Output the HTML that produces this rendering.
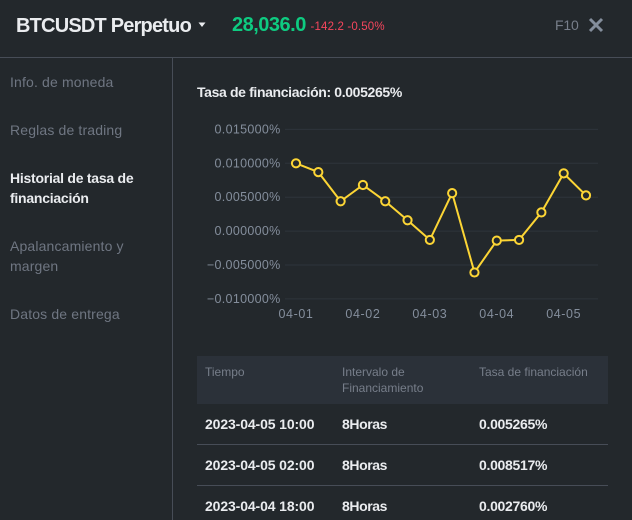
<!DOCTYPE html>
<html lang="es">
<head>
<meta charset="utf-8">
<title>BTCUSDT Perpetuo</title>
<style>
html,body{margin:0;padding:0;background:#23282c;}
body{width:632px;height:520px;overflow:hidden;position:relative;font-family:"Liberation Sans",sans-serif;}
.t{position:absolute;white-space:nowrap;line-height:1;}
.ln{position:absolute;background:#474d57;}
.nav{position:absolute;left:10px;font-size:14px;line-height:20px;color:#6f7682;font-weight:400;letter-spacing:.15px;}
.th{color:#777e8a;font-size:12px;line-height:16px;position:absolute;}
.td{color:#eaecef;font-size:14px;font-weight:700;position:absolute;white-space:nowrap;line-height:16px;letter-spacing:-.12px;}
.rate{letter-spacing:-.3px;}
.iv{letter-spacing:-.4px;}
svg text{font-family:"Liberation Sans",sans-serif;}
</style>
</head>
<body>
<div class="t" style="left:16px;top:16px;font-size:20px;font-weight:700;color:#eaecef;letter-spacing:-.8px">BTCUSDT Perpetuo</div>
<svg style="position:absolute;left:197px;top:21px" width="12" height="8"><path d="M1.5 1.5h7L5 6z" fill="#eaecef"/></svg>
<div class="t" style="left:232px;top:15px;font-size:20px;font-weight:700;color:#0ecb81;letter-spacing:-.5px">28,036.0</div>
<div class="t" style="left:310.500px;top:22px;font-size:11.5px;color:#f6465d;letter-spacing:.15px">-142.2 -0.50%</div>
<div class="t" style="left:555px;top:18px;font-size:14px;color:#777e8a;letter-spacing:-.2px">F10</div>
<svg style="position:absolute;left:587px;top:16px" width="18" height="18"><path d="M3 3L15 15M15 3L3 15" stroke="#848e9c" stroke-width="3"/></svg>
<div class="ln" style="left:0;top:57px;width:632px;height:1px"></div>
<div class="ln" style="left:172px;top:58px;width:1px;height:462px"></div>

<div class="nav" style="top:72px">Info. de moneda</div>
<div class="nav" style="top:120px;font-weight:400">Reglas de trading</div>
<div class="nav" style="top:168px;color:#eaecef;font-weight:700;letter-spacing:-.25px">Historial de tasa de<br>financiación</div>
<div class="nav" style="top:236px">Apalancamiento y<br>margen</div>
<div class="nav" style="top:304px">Datos de entrega</div>

<div class="t" style="left:197px;top:85px;font-size:14px;font-weight:700;color:#eaecef;letter-spacing:-.36px">Tasa de financiación: 0.005265%</div>

<svg id="chart" style="position:absolute;left:0;top:0" width="632" height="340"></svg>

<div style="position:absolute;left:197px;top:356px;width:411px;height:48px;background:#2b3139"></div>
<div class="th" style="left:205px;top:364px">Tiempo</div>
<div class="th" style="left:342px;top:364px">Intervalo de<br>Financiamiento</div>
<div class="th" style="left:479px;top:364px">Tasa de financiación</div>

<div class="td" style="left:205px;top:416px">2023-04-05 10:00</div>
<div class="td iv" style="left:342px;top:416px">8Horas</div>
<div class="td rate" style="left:479px;top:416px">0.005265%</div>
<div class="ln" style="left:197px;top:444px;width:411px;height:1px"></div>
<div class="td" style="left:205px;top:457px">2023-04-05 02:00</div>
<div class="td iv" style="left:342px;top:457px">8Horas</div>
<div class="td rate" style="left:479px;top:457px">0.008517%</div>
<div class="ln" style="left:197px;top:485px;width:411px;height:1px"></div>
<div class="td" style="left:205px;top:498px">2023-04-04 18:00</div>
<div class="td iv" style="left:342px;top:498px">8Horas</div>
<div class="td rate" style="left:479px;top:498px">0.002760%</div>

<script>
var categories = ["04-01","","","04-02","","","04-03","","","04-04","","","04-05",""];
var fundingRates = [0.0100,0.0087,0.0044,0.0068,0.0044,0.0016,-0.0013,0.0056,-0.0061,-0.0014,-0.0013,0.00276,0.008517,0.005265];
var yTicks = [0.015,0.010,0.005,0,-0.005,-0.010];
var yTickLabels = ["0.015000%","0.010000%","0.005000%","0.000000%","\u22120.005000%","\u22120.010000%"];

function xAxis(i){ return 296 + i * (586 - 296) / (categories.length - 1); }
function yAxis(v){ return 298.9 - (v + 0.010) * (298.9 - 129.4) / 0.025; }

var svg = document.getElementById('chart');
var NS = 'http://www.w3.org/2000/svg';
function make(tag, attrs){
  var el = document.createElementNS(NS, tag);
  for (var k in attrs) el.setAttribute(k, attrs[k]);
  svg.appendChild(el);
  return el;
}
yTicks.forEach(function(v, i){
  var y = yAxis(v);
  var g = make('line', {x1:285, x2:598, y1:y, y2:y, stroke:'#2e343b', 'stroke-width':1});
  
  
  var t = make('text', {x:280.5, y:y+4, 'text-anchor':'end', 'font-size':12.5, fill:'#848e9c', 'letter-spacing':'.3'});
  
  
  t.textContent = yTickLabels[i];
});
categories.forEach(function(c, i){
  if (!c) return;
  var t = make('text', {x:xAxis(i), y:318, 'text-anchor':'middle', 'font-size':12.5, fill:'#848e9c', 'letter-spacing':'.6'});
  
  
  t.textContent = c;
});
var pts = fundingRates.map(function(v, i){ return xAxis(i) + ',' + yAxis(v); }).join(' ');
var line = make('polyline', {points:pts, fill:'none', stroke:'#fcd535', 'stroke-width':2});


fundingRates.forEach(function(v, i){
  var p = make('circle', {cx:xAxis(i), cy:yAxis(v), r:4.1, fill:'#23282c', stroke:'#fcd535', 'stroke-width':2});
  
  
});
</script>
</body>
</html>
